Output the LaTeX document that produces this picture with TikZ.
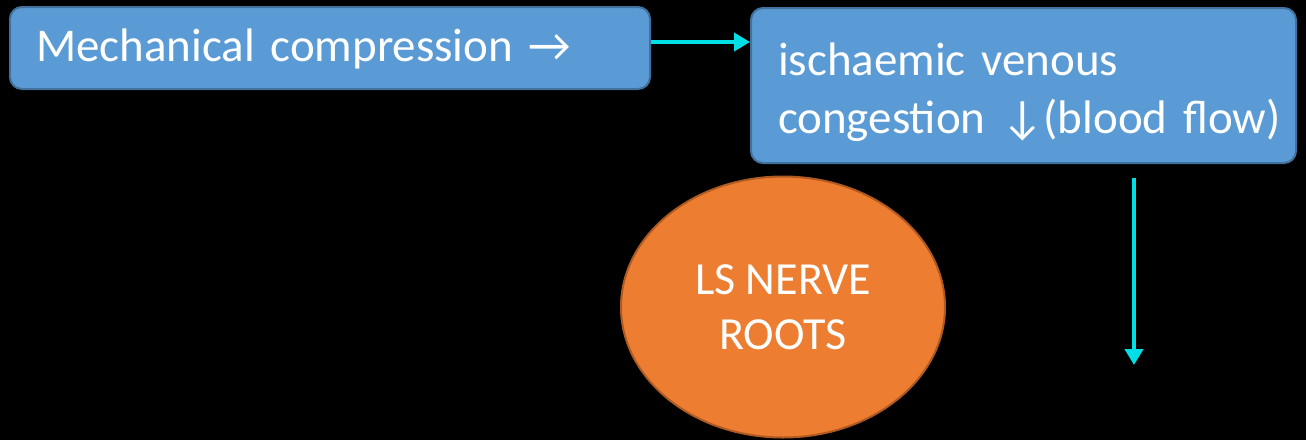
\documentclass[tikz,border=0pt]{standalone}
\usepackage{fontspec}
\setmainfont{Carlito}
\usetikzlibrary{arrows.meta,shapes.geometric}
\definecolor{boxblue}{RGB}{91,155,213}
\definecolor{boxedge}{RGB}{65,113,156}
\definecolor{rootorange}{RGB}{237,125,49}
\definecolor{rootedge}{RGB}{174,90,33}
\definecolor{flowcyan}{RGB}{0,222,230}
\tikzset{
  stepbox/.style={draw=boxedge, line width=1pt, fill=boxblue, rounded corners=6pt,
    text=white, align=left, font=\fontsize{23.5}{29}\selectfont, inner ysep=0pt},
  rootnode/.style={ellipse, draw=rootedge, line width=1pt, fill=rootorange,
    text=white, align=center, font=\fontsize{23}{27.5}\selectfont, inner sep=0pt},
  conn/.style={draw=flowcyan, line width=2.2pt, -{Triangle[length=8pt,width=9pt]}}
}
\begin{document}
\begin{tikzpicture}[x=0.5pt,y=-0.5pt]
  \fill[black] (0,0) rectangle (1306,440);
  \useasboundingbox (0,0) rectangle (1306,440);

  \node[stepbox, minimum width=320pt, minimum height=41pt, text width=294pt,
        inner xsep=13pt, text depth=2.5pt] (mech) at (330,48) {Mechanical compression →};
  \node[stepbox, minimum width=272.5pt, minimum height=77.5pt, text width=245.5pt,
        inner xsep=13.5pt] (isch) at (1023.5,85.5)
        {\rule{0pt}{23pt}ischaemic venous\\\mbox{congestion ↓(blood flow)}};
  \node[rootnode, minimum width=162pt, minimum height=130.5pt] (roots) at (783,307)
        {LS NERVE\\ROOTS};

  \draw[conn] ([yshift=3pt]mech.east) -- ([yshift=3pt]mech.east -| isch.west);

  \coordinate (down1) at (1134,178);
  \coordinate (down2) at (1134,365);
  \draw[conn] (down1) -- (down2);
\end{tikzpicture}
\end{document}
